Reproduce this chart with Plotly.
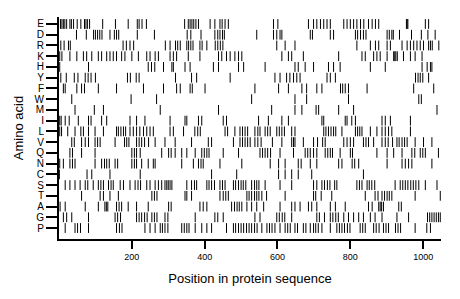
import plotly.graph_objects as go

amino_acids = ["E", "D", "R", "K", "H", "Y", "F", "W", "M", "I",
               "L", "V", "Q", "N", "C", "S", "T", "A", "G", "P"]

pos_E = [4,8,12,16,21,30,34,40,50,60,70,74,78,84,120,155,190,215,220,228,240,345,355,360,365,370,376,383,415,428,442,448,456,465,589,601,685,699,708,718,727,736,745,782,791,800,809,818,828,837,850,860,869,878,954,956,958,1006,1015]
pos_D = [48,75,95,100,106,112,118,140,152,158,164,215,262,352,362,390,428,436,442,449,454,543,589,598,607,612,690,696,745,754,814,820,828,836,843,901,907,914,918,935,968,995,1013,1033]
pos_R = [5,14,26,31,176,185,195,205,292,305,320,326,333,351,356,362,368,387,393,406,429,436,443,450,598,621,648,818,855,869,878,901,910,942,956,965,974,983,992,1001,1015,1020,1025,1043]
pos_K = [2,8,30,49,67,76,90,108,117,131,140,149,158,172,181,200,218,241,250,264,273,305,314,323,355,387,438,447,460,470,483,493,502,612,630,639,671,768,832,841,864,873,882,901,919,922,925,929,946,965,978,997]
pos_H = [2,81,245,254,263,287,310,314,346,360,424,438,493,507,566,648,657,676,699,740,754,772,855,896,997,1011,1020,1024]
pos_Y = [5,20,42,52,72,80,88,100,188,196,212,220,320,364,378,470,593,607,625,634,644,653,662,736,745,759,979,986,992,999,1015]
pos_F = [12,17,49,62,70,108,158,232,287,323,333,360,366,401,538,603,630,667,680,708,722,773,779,786,795,846,974,1029]
pos_W = [35,198,268,529,648,680,795,988,995]
pos_M = [44,97,122,278,438,584,648,667,706,713,768,809,1038]
pos_I = [2,6,17,28,53,81,88,117,131,195,213,236,305,346,351,383,392,451,460,548,575,612,630,722,727,786,791,804,814,887,896,910,965]
pos_L = [2,7,24,44,60,67,81,99,122,158,163,170,177,183,195,204,213,222,232,241,250,259,305,314,342,373,381,388,456,463,483,497,504,511,518,538,546,552,566,573,580,598,605,612,619,639,648,727,733,740,747,754,760,777,814,820,826,832,855,873,887,896,905,914,965]
pos_V = [35,42,62,72,81,99,106,113,154,180,186,192,213,220,227,235,246,264,291,319,364,410,419,479,497,504,511,518,525,538,546,555,586,612,639,644,648,671,699,710,724,731,782,791,800,809,836,843,850,864,887,896,904,916,928,934,942,949,956,978,1001,1024]
pos_Q = [30,37,62,99,200,207,213,223,282,301,308,319,337,351,374,392,399,406,412,451,493,552,559,566,573,581,607,644,676,683,690,699,708,731,738,745,751,772,800,806,873,901,919,942,969,977,992,999,1006,1042]
pos_N = [2,12,30,37,44,99,117,125,131,138,154,161,200,207,213,227,245,259,264,337,369,383,390,396,442,502,580,603,621,657,665,690,708,768,777,805,812,823,901,942,951,960,969,1024]
pos_C = [1,77,90,140,223,419,488,603,621,639,657,694,836]
pos_S = [17,30,44,58,72,79,94,108,115,122,136,143,149,168,177,195,209,217,224,241,250,264,273,282,291,296,300,305,310,351,364,372,378,406,412,419,427,442,449,456,479,485,493,500,506,513,529,537,543,549,566,607,639,699,708,722,729,737,744,757,763,818,825,832,846,852,859,867,923,937,944,951,958,966,973,980,988,1006,1038]
pos_T = [62,113,122,140,163,255,262,269,346,351,364,442,451,458,465,516,522,529,537,543,549,557,570,621,699,705,720,749,841,868,876,887,894,901,907,914,978,1047]
pos_A = [3,17,72,108,126,130,134,158,165,172,190,213,245,301,308,387,396,406,474,482,489,495,502,516,529,543,562,607,639,648,662,685,694,708,745,759,786,850,860,878,882,886,891,933,940]
pos_G = [12,21,35,81,154,161,169,213,220,227,235,242,255,262,269,291,299,374,428,436,451,538,552,598,605,613,620,639,708,715,729,745,752,760,767,782,795,809,823,836,855,868,887,928,960,1012,1018,1024,1030,1036,1042,1047]
pos_P = [17,44,51,59,81,158,166,173,236,250,264,278,284,291,299,337,344,351,357,374,392,406,419,460,479,485,493,500,507,515,522,529,537,544,557,571,578,585,593,607,621,628,635,648,655,671,678,690,699,705,712,722,745,763,770,777,784,792,799,827,834,841,864,871,879,891,898,905,924,931,938,978,1010,1020]

positions = [pos_E, pos_D, pos_R, pos_K, pos_H, pos_Y, pos_F, pos_W, pos_M, pos_I,
             pos_L, pos_V, pos_Q, pos_N, pos_C, pos_S, pos_T, pos_A, pos_G, pos_P]

x_ticks = [200, 400, 600, 800, 1000]
seq_length = 1049

n = len(amino_acids)
xs, ys = [], []
for i, plist in enumerate(positions):
    level = n - 1 - i
    xs.extend(plist)
    ys.extend([level] * len(plist))

fig = go.Figure()
fig.add_trace(go.Scatter(
    x=xs, y=ys, mode="markers",
    marker=dict(symbol="line-ns", size=7, color="black",
                line=dict(width=1, color="black")),
    hoverinfo="skip", showlegend=False,
))

# the page body has an 8px default margin, so the figure is sized to fit the window
fig.update_layout(
    width=452, height=291,
    margin=dict(l=51, r=19, t=9, b=60),
    paper_bgcolor="white", plot_bgcolor="white",
    font=dict(family="Liberation Sans, Arial, sans-serif", color="black"),
    xaxis=dict(
        range=[0, seq_length], tickvals=x_ticks,
        ticktext=[str(v) for v in x_ticks],
        showline=True, linewidth=2, linecolor="black",
        ticks="outside", ticklen=8, tickwidth=1.5, tickcolor="black",
        showgrid=False, zeroline=False, automargin=False,
        tickfont=dict(size=9),
        title=dict(text="Position in protein sequence", font=dict(size=13), standoff=13),
    ),
    yaxis=dict(
        range=[-1.02, 19.65],
        tickvals=list(range(n)),
        ticktext=list(reversed(amino_acids)),
        showline=True, linewidth=2, linecolor="black",
        ticks="outside", ticklen=11, tickwidth=1.5, tickcolor="black",
        showgrid=False, zeroline=False, automargin=False,
        tickfont=dict(size=10),
        title=dict(text="Amino acid", font=dict(size=13), standoff=8),
    ),
)

fig.write_html("out.html")
